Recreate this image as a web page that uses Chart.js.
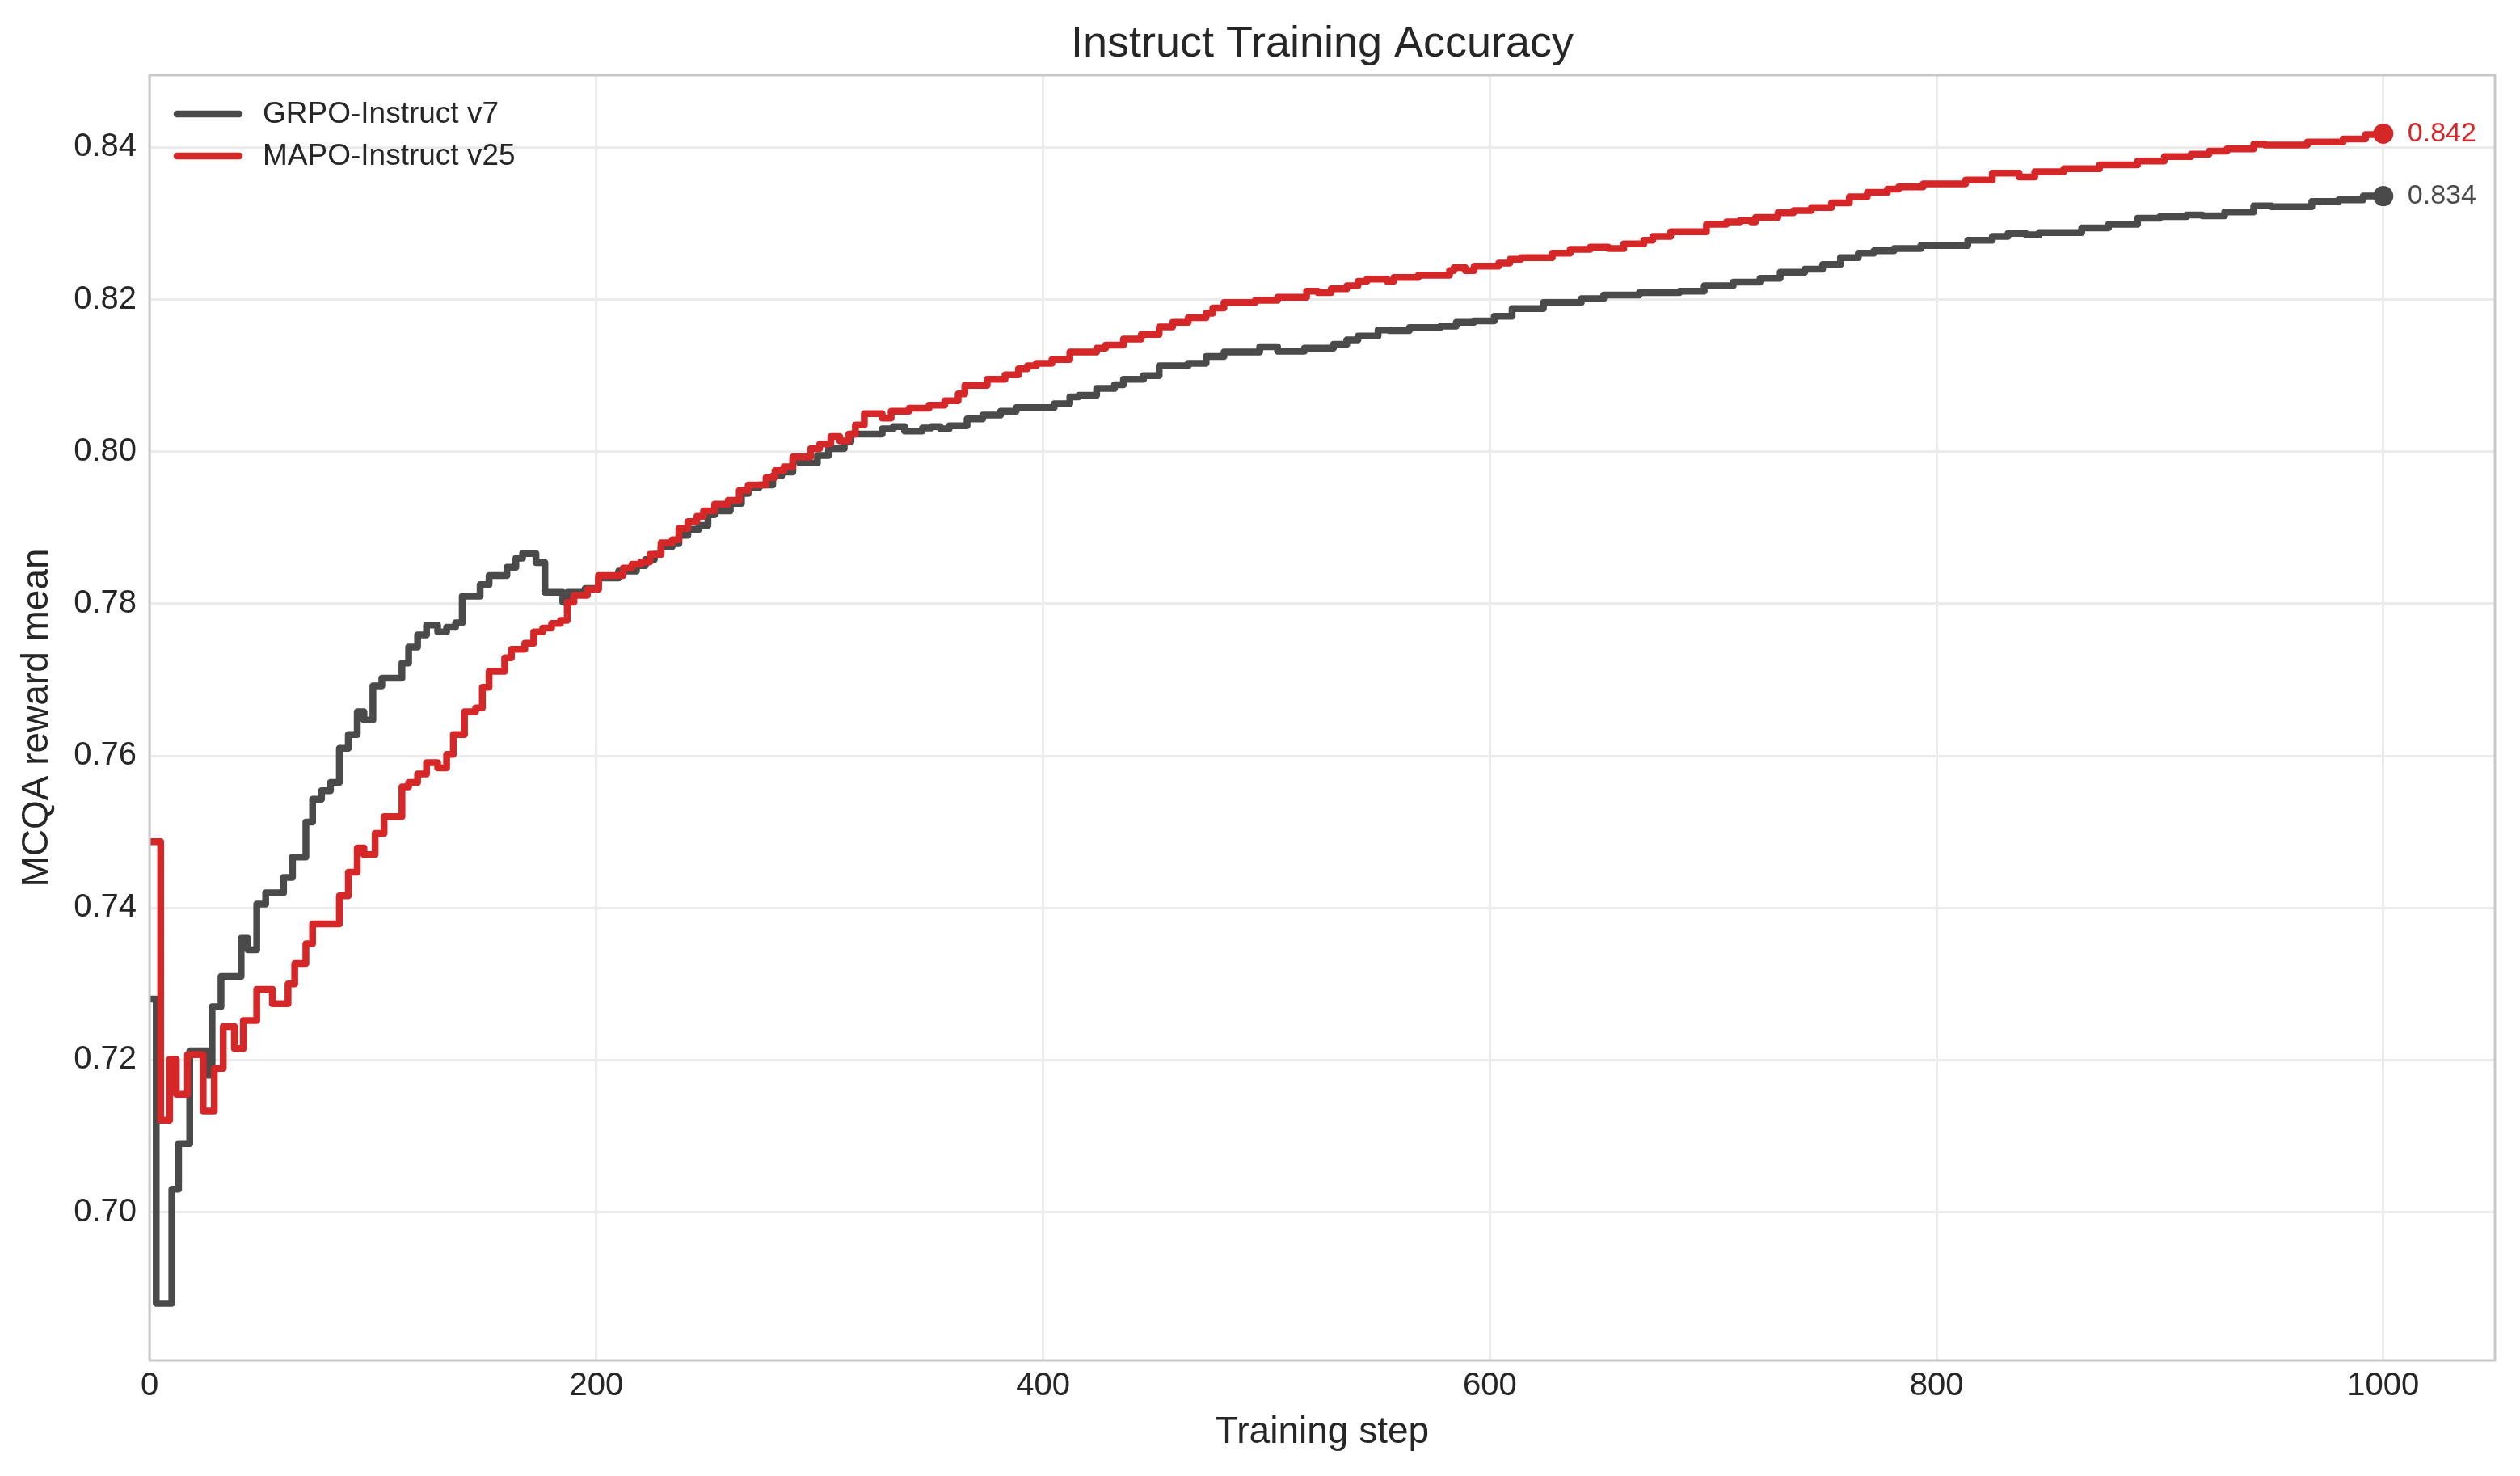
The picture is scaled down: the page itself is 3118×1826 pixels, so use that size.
<!DOCTYPE html>
<html>
<head>
<meta charset="utf-8">
<title>Instruct Training Accuracy</title>
<script src="https://cdn.jsdelivr.net/npm/chart.js@4.4.1/dist/chart.umd.min.js"></script>
<style>
  html, body { margin: 0; padding: 0; background: #fff; }
  #wrap { width: 3118px; height: 1826px; }
</style>
</head>
<body>
<div id="wrap"><canvas id="chart" width="3118" height="1826"></canvas></div>
<script>
// Data (step where a value starts, value)
const grpoSteps = [
  0, 3, 10, 13, 18, 26, 28, 32, 41, 44,
  48, 52, 60, 64, 70, 73, 77, 81, 85, 89,
  93, 96, 100, 104, 113, 116, 120, 124, 129, 133,
  137, 140, 148, 152, 160, 164, 167, 173, 177, 185,
  187, 195, 201, 210, 218, 222, 226, 229, 234, 237,
  241, 246, 250, 253, 260, 265, 268, 273, 279, 283,
  288, 291, 299, 304, 311, 314, 328, 333, 338, 346,
  350, 354, 358, 366, 373, 381, 388, 405, 412, 416,
  424, 432, 436, 445, 452, 465, 473, 481, 497, 505,
  517, 530, 536, 541, 550, 555, 564, 578, 585, 593,
  602, 610, 624, 641, 651, 667, 685, 696, 709, 721,
  730, 741, 749, 757, 765, 772, 781, 793, 814, 825,
  832, 840, 846, 865, 877, 890, 900, 912, 919, 929,
  942, 950, 968, 980, 991, 1000
];
const grpoValues = [
  0.728, 0.688, 0.703, 0.709, 0.7212, 0.718, 0.727, 0.731, 0.736, 0.7345,
  0.7405, 0.742, 0.744, 0.7467, 0.7513, 0.7543, 0.7554, 0.7565, 0.761, 0.7628,
  0.7658, 0.7647, 0.7692, 0.7702, 0.7722, 0.7743, 0.7759, 0.7772, 0.7763, 0.7769,
  0.7775, 0.781, 0.7825, 0.7837, 0.7848, 0.786, 0.7866, 0.7854, 0.7815, 0.7802,
  0.7815, 0.782, 0.7834, 0.7843, 0.785, 0.7858, 0.7865, 0.7875, 0.7879, 0.789,
  0.7898, 0.7903, 0.7917, 0.7922, 0.7932, 0.7945, 0.7953, 0.7956, 0.7968, 0.7973,
  0.799, 0.7985, 0.7995, 0.8004, 0.8013, 0.8023, 0.803, 0.8033, 0.8027, 0.8031,
  0.8033, 0.803, 0.8034, 0.8043, 0.8048, 0.8053, 0.8058, 0.8063, 0.8072, 0.8074,
  0.8083, 0.8088, 0.8095, 0.81, 0.8113, 0.8116, 0.8125, 0.8131, 0.8138, 0.8132,
  0.8136, 0.8141, 0.8147, 0.8152, 0.816, 0.8159, 0.8163, 0.8165, 0.817, 0.8172,
  0.8178, 0.8188, 0.8196, 0.8201, 0.8206, 0.8209, 0.8211, 0.8218, 0.8223, 0.8228,
  0.8236, 0.824, 0.8246, 0.8255, 0.8261, 0.8264, 0.8267, 0.8271, 0.8278, 0.8283,
  0.8287, 0.8285, 0.8288, 0.8294, 0.8299, 0.8307, 0.8309, 0.8311, 0.831, 0.8315,
  0.8323, 0.8322, 0.8329, 0.8331, 0.8336, 0.8336
];

const mapoSteps = [
  0, 5, 9, 12, 17, 24, 29, 33, 38, 42,
  48, 55, 62, 65, 70, 73, 85, 89, 93, 96,
  101, 105, 113, 116, 120, 124, 129, 133, 136, 141,
  146, 149, 152, 159, 162, 168, 172, 176, 180, 184,
  187, 190, 196, 201, 212, 216, 220, 224, 229, 234,
  237, 241, 245, 248, 253, 259, 264, 268, 276, 280,
  284, 288, 296, 300, 305, 309, 313, 316, 320, 328,
  332, 340, 349, 356, 362, 365, 375, 383, 389, 393,
  397, 404, 412, 424, 428, 436, 444, 452, 458, 465,
  473, 476, 481, 495, 505, 518, 523, 529, 536, 541,
  545, 554, 557, 568, 582, 584, 589, 593, 604, 609,
  614, 628, 636, 645, 653, 660, 669, 673, 681, 697,
  706, 712, 717, 719, 729, 736, 744, 753, 761, 769,
  778, 783, 794, 813, 825, 837, 844, 857, 873, 890,
  902, 914, 922, 930, 942, 947, 966, 982, 992, 1000
];
const mapoValues = [
  0.7487, 0.7121, 0.7201, 0.7155, 0.7207, 0.7133, 0.7189, 0.7244, 0.7215, 0.7252,
  0.7293, 0.7274, 0.73, 0.7327, 0.7353, 0.7379, 0.7416, 0.7447, 0.7479, 0.747,
  0.7498, 0.752, 0.7559, 0.7565, 0.7576, 0.7591, 0.7584, 0.7602, 0.7628, 0.7658,
  0.7663, 0.769, 0.7711, 0.7729, 0.774, 0.7748, 0.7763, 0.7768, 0.7774, 0.7778,
  0.7802, 0.7811, 0.7819, 0.7837, 0.7847, 0.7852, 0.7855, 0.7865, 0.788, 0.7884,
  0.7899, 0.7908, 0.7915, 0.7922, 0.7931, 0.7936, 0.7949, 0.7956, 0.7966, 0.7975,
  0.798, 0.7993, 0.8004, 0.801, 0.802, 0.8014, 0.8023, 0.8035, 0.805, 0.8044,
  0.8053, 0.8057, 0.8061, 0.8067, 0.8076, 0.8087, 0.8095, 0.8101, 0.8109, 0.8113,
  0.8116, 0.8121, 0.8131, 0.8136, 0.814, 0.8148, 0.8154, 0.8164, 0.817, 0.8176,
  0.8182, 0.8189, 0.8196, 0.8199, 0.8203, 0.8211, 0.8209, 0.8214, 0.8218, 0.8224,
  0.8227, 0.8224, 0.8229, 0.8232, 0.8238, 0.8242, 0.8238, 0.8244, 0.8248, 0.8253,
  0.8255, 0.8261, 0.8266, 0.8269, 0.8267, 0.8273, 0.8278, 0.8283, 0.8289, 0.8299,
  0.8302, 0.8304, 0.8302, 0.8308, 0.8314, 0.8317, 0.8321, 0.8327, 0.8335, 0.8341,
  0.8345, 0.8348, 0.8352, 0.8357, 0.8366, 0.8361, 0.8368, 0.8372, 0.8377, 0.8382,
  0.8388, 0.8391, 0.8395, 0.8398, 0.8404, 0.8403, 0.8407, 0.8411, 0.8417, 0.8418
];

const xTicks = [0, 200, 400, 600, 800, 1000];
const yTicks = [0.70, 0.72, 0.74, 0.76, 0.78, 0.80, 0.82, 0.84];

const grpoColor = "#4a4a4a";
const mapoColor = "#d62728";
const textColor = "#262626";
const fontFamily = '"Liberation Sans", Arial, "DejaVu Sans", sans-serif';

function font(size) {
  return size + "px " + fontFamily;
}

// only the last point of a series gets a marker
function lastPointRadius(ctx) {
  return ctx.dataIndex === ctx.dataset.data.length - 1 ? 12.5 : 0;
}

// title, frame, legend and end-value labels
const decorations = {
  id: "decorations",
  afterDatasetsDraw(chart) {
    const ctx = chart.ctx;
    ctx.save();
    ctx.font = font(34);
    ctx.textAlign = "left";
    ctx.textBaseline = "middle";
    chart.data.datasets.forEach((ds, i) => {
      const meta = chart.getDatasetMeta(i);
      const last = meta.data[meta.data.length - 1];
      const value = ds.data[ds.data.length - 1].y;
      ctx.fillStyle = ds.borderColor;
      ctx.fillText(value.toFixed(3), last.x + 30, last.y);
    });
    ctx.restore();
  },
  afterDraw(chart) {
    const ctx = chart.ctx;
    const area = chart.chartArea;
    ctx.save();

    // axes frame
    ctx.strokeStyle = "#c8c8c8";
    ctx.lineWidth = 3;
    ctx.strokeRect(area.left, area.top, area.right - area.left, area.bottom - area.top);

    // title
    ctx.fillStyle = textColor;
    ctx.font = font(54);
    ctx.textAlign = "center";
    ctx.textBaseline = "alphabetic";
    ctx.fillText("Instruct Training Accuracy", (area.left + area.right) / 2, 70);

    // legend
    ctx.font = font(37);
    ctx.textAlign = "left";
    ctx.textBaseline = "middle";
    ctx.lineCap = "round";
    chart.data.datasets.forEach((ds, i) => {
      const y = area.top + 48 + i * 52;
      ctx.strokeStyle = ds.borderColor;
      ctx.lineWidth = 8.5;
      ctx.beginPath();
      ctx.moveTo(area.left + 34, y);
      ctx.lineTo(area.left + 111, y);
      ctx.stroke();
      ctx.fillStyle = textColor;
      ctx.fillText(ds.label, area.left + 140, y + 1);
    });

    ctx.restore();
  },
};

var ctx = document.getElementById("chart").getContext("2d");
var chart = new Chart(ctx, {
  type: "line",
  data: {
    datasets: [
      {
        label: "GRPO-Instruct v7",
        data: grpoSteps.map((s, i) => ({ x: s, y: grpoValues[i] })),
        borderColor: grpoColor,
        backgroundColor: grpoColor,
        borderWidth: 8.5,
        borderJoinStyle: "round",
        stepped: "before",
        pointRadius: lastPointRadius,
        pointHoverRadius: 0,
        pointBorderWidth: 0,
        pointBackgroundColor: grpoColor,
        order: 1,
      },
      {
        label: "MAPO-Instruct v25",
        data: mapoSteps.map((s, i) => ({ x: s, y: mapoValues[i] })),
        borderColor: mapoColor,
        backgroundColor: mapoColor,
        borderWidth: 8.5,
        borderJoinStyle: "round",
        stepped: "before",
        pointRadius: lastPointRadius,
        pointHoverRadius: 0,
        pointBorderWidth: 0,
        pointBackgroundColor: mapoColor,
        order: 0,
      },
    ],
  },
  options: {
    responsive: false,
    devicePixelRatio: 1,
    animation: false,
    layout: {
      padding: { top: 93, right: 31, left: 0, bottom: 0 },
    },
    plugins: {
      legend: { display: false },
      tooltip: { enabled: false },
    },
    scales: {
      x: {
        type: "linear",
        min: 0,
        max: 1050,
        afterBuildTicks(scale) {
          scale.ticks = xTicks.map((v) => ({ value: v }));
        },
        afterFit(scale) {
          scale.height = 143;
        },
        border: { display: false },
        grid: {
          color: "#ebebeb",
          lineWidth: 3,
          drawTicks: false,
        },
        ticks: {
          padding: 8,
          color: textColor,
          font: { size: 40, family: fontFamily },
          callback: (value) => String(value),
        },
        title: {
          display: true,
          text: "Training step",
          color: textColor,
          font: { size: 46, family: fontFamily },
          padding: { top: 0, bottom: 26 },
        },
      },
      y: {
        type: "linear",
        min: 0.6805,
        max: 0.8495,
        afterBuildTicks(scale) {
          scale.ticks = yTicks.map((v) => ({ value: v }));
        },
        afterFit(scale) {
          scale.width = 185;
        },
        border: { display: false },
        grid: {
          color: "#ebebeb",
          lineWidth: 3,
          drawTicks: false,
        },
        ticks: {
          padding: 16,
          color: textColor,
          font: { size: 40, family: fontFamily },
          callback: (value) => value.toFixed(2),
        },
        title: {
          display: true,
          text: "MCQA reward mean",
          color: textColor,
          font: { size: 46, family: fontFamily },
          padding: { top: 19, bottom: 0 },
        },
      },
    },
  },
  plugins: [decorations],
});
</script>
</body>
</html>
